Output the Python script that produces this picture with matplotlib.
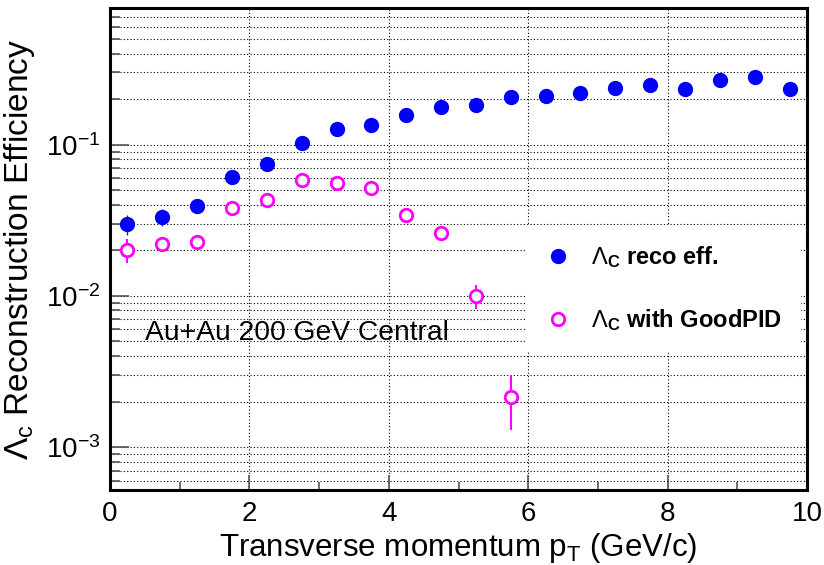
import matplotlib
matplotlib.use("Agg")
import matplotlib.pyplot as plt
from matplotlib.lines import Line2D
from matplotlib.ticker import MultipleLocator, LogLocator, NullFormatter
import numpy as np

# ─────────────────────────────────────────────────────────────────────────────
# Data
pt = [0.25, 0.75, 1.25, 1.75, 2.25, 2.75, 3.25, 3.75, 4.25, 4.75,
      5.25, 5.75, 6.25, 6.75, 7.25, 7.75, 8.25, 8.75, 9.25, 9.75]

reco_eff = [0.0298, 0.0331, 0.0395, 0.0613, 0.0744, 0.1026, 0.126, 0.135,
            0.156, 0.178, 0.183, 0.205, 0.211, 0.218, 0.238, 0.249,
            0.234, 0.266, 0.279, 0.234]
reco_err = [0.0047, 0.0042, 0.0043, 0.004, 0.004, 0.004, 0.004, 0.004,
            0.004, 0.004, 0.004, 0.004, 0.004, 0.004, 0.004, 0.004,
            0.004, 0.004, 0.004, 0.004]

pt_pid = [0.25, 0.75, 1.25, 1.75, 2.25, 2.75, 3.25, 3.75, 4.25, 4.75, 5.25, 5.75]
pid_eff = [0.0201, 0.0219, 0.0227, 0.038, 0.0427, 0.0586, 0.056, 0.0516,
           0.034, 0.0259, 0.0100, 0.00214]
pid_err = [0.0037, 0.002, 0.002, 0.002, 0.002, 0.002, 0.002, 0.002,
           0.002, 0.0015, 0.0018, 0.00085]

x_ticks = [0, 2, 4, 6, 8, 10]
labels = [r"$\Lambda_{\bf C}$ reco eff.", r"$\Lambda_{\bf C}$ with GoodPID"]

# ─────────────────────────────────────────────────────────────────────────────
plt.rcParams["font.family"] = ["Liberation Sans", "DejaVu Sans"]
plt.rcParams["mathtext.fontset"] = "custom"
plt.rcParams["mathtext.rm"] = "Liberation Sans"
plt.rcParams["mathtext.it"] = "Liberation Sans:italic"
plt.rcParams["mathtext.bf"] = "Liberation Sans:bold"

fig = plt.figure(figsize=(8.24, 5.65), dpi=100)
ax = fig.add_axes([0.1335, 0.1327, 0.8459, 0.8531])

ax.set_yscale("log")
ax.set_xlim(0, 10)
ax.set_ylim(5.2e-4, 0.8)

# data
ax.errorbar(pt, reco_eff, yerr=reco_err, fmt="o", color="#0000ff",
            ecolor="#333333", elinewidth=1.0, markersize=10, capsize=0,
            zorder=4)
ax.errorbar(pt_pid, pid_eff, yerr=pid_err, fmt="o", color="#ff00ff",
            mfc="white", mec="#ff00ff", mew=2.0, elinewidth=1.5,
            markersize=9, capsize=0, zorder=4)

# ticks
ax.xaxis.set_major_locator(MultipleLocator(2))
ax.xaxis.set_minor_locator(MultipleLocator(1))
ax.yaxis.set_major_locator(LogLocator(base=10))
ax.yaxis.set_minor_locator(LogLocator(base=10, subs=np.arange(2, 10)))
ax.yaxis.set_minor_formatter(NullFormatter())
ax.set_xticks(x_ticks)

ax.tick_params(axis="both", which="both", direction="in", top=False,
               right=False, labelsize=20, width=1.2, color="#555555")
ax.tick_params(axis="y", which="major", length=14, pad=7)
ax.tick_params(axis="y", which="minor", length=7)
ax.tick_params(axis="x", which="major", length=11, pad=8)
ax.tick_params(axis="x", which="minor", length=6)

# grid: vertical at major x, horizontal at every log tick
ax.grid(True, axis="x", which="major", color="black",
        linestyle=(0, (1, 2)), linewidth=0.8)
ax.grid(True, axis="y", which="both", color="black",
        linestyle=(0, (1, 2)), linewidth=0.8)
ax.set_axisbelow(True)

for sp in ax.spines.values():
    sp.set_linewidth(2.2)

ax.set_xlabel(r"Transverse momentum p$_{\rm T}$ (GeV/c)", fontsize=22.5,
              labelpad=3)
ax.set_ylabel(r"$\Lambda_{\rm c}$ Reconstruction Efficiency", fontsize=24,
              labelpad=6)

ax.text(0.5, 0.00508, "Au+Au 200 GeV Central", fontsize=20.3,
        va="baseline", ha="left")

# legend with marker-only handles
handles = [
    Line2D([], [], linestyle="none", marker="o", color="#0000ff",
           markersize=10),
    Line2D([], [], linestyle="none", marker="o", mfc="white",
           mec="#ff00ff", mew=2.0, markersize=9),
]
leg = ax.legend(handles, labels, loc="upper left",
                bbox_to_anchor=(0.598, 0.55),
                prop={"weight": "bold", "size": 17}, frameon=True,
                fancybox=False, framealpha=1.0, edgecolor="none",
                facecolor="white", borderpad=0.8, handlelength=1.0,
                handletextpad=0.9, labelspacing=1.6, borderaxespad=0)
leg.set_zorder(5)

fig.savefig("out.png", dpi=100)
